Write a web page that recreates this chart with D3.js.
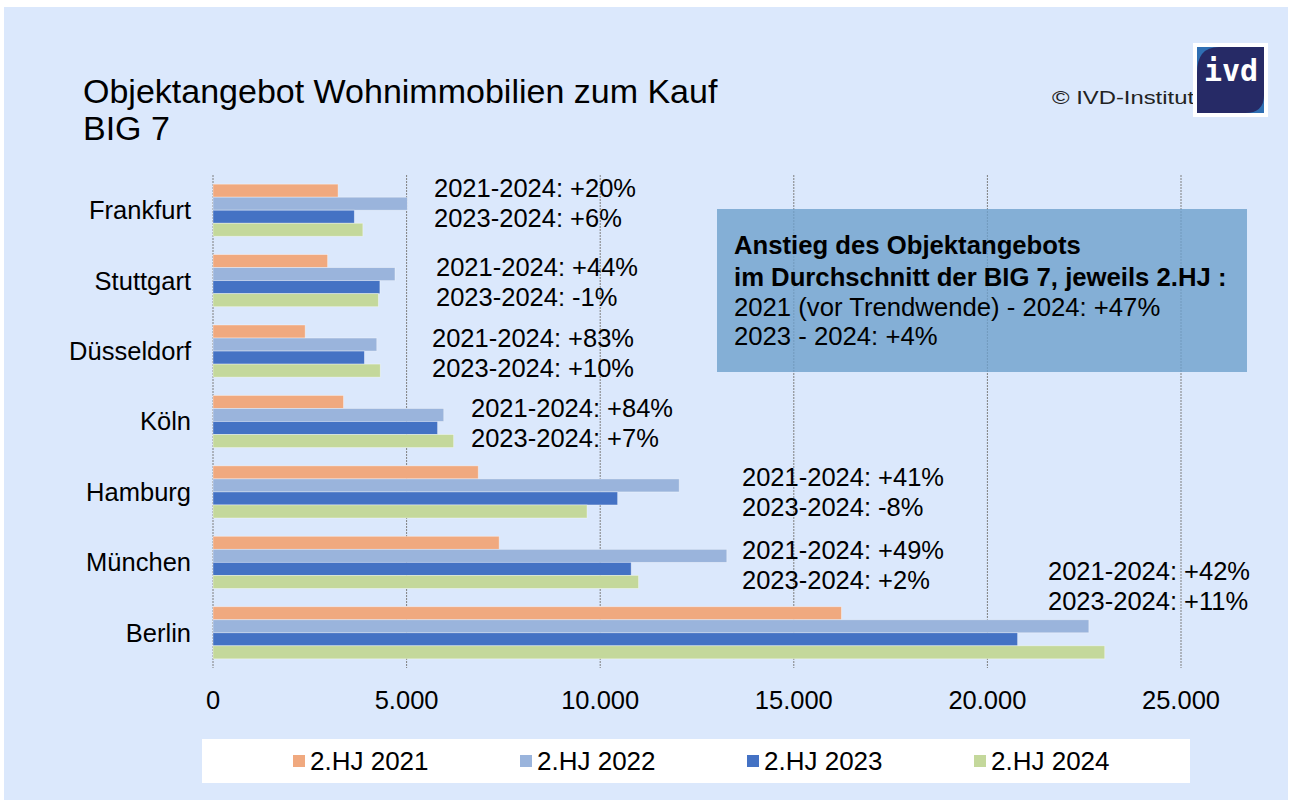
<!DOCTYPE html>
<html>
<head>
<meta charset="utf-8">
<script src="https://cdn.jsdelivr.net/npm/d3@7"></script>
<style>
  body { margin: 0; background: #fff; }
  text { font-family: "Liberation Sans", Arial, sans-serif; fill: #000; }
</style>
</head>
<body>
<div id="chart"></div>
<script>
// data
const cities = ["Frankfurt", "Stuttgart", "Düsseldorf", "Köln", "Hamburg", "München", "Berlin"];
const seriesNames = ["2.HJ 2021", "2.HJ 2022", "2.HJ 2023", "2.HJ 2024"];
const hj2021 = [3230, 2960, 2380, 3370, 6850, 7390, 16230];
const hj2022 = [5020, 4700, 4230, 5960, 12040, 13270, 22620];
const hj2023 = [3650, 4310, 3910, 5800, 10450, 10800, 20780];
const hj2024 = [3870, 4270, 4320, 6215, 9660, 10990, 23030];
const change2124 = ["+20%", "+44%", "+83%", "+84%", "+41%", "+49%", "+42%"];
const change2324 = ["+6%", "-1%", "+10%", "+7%", "-8%", "+2%", "+11%"];
const xTicks = [0, 5000, 10000, 15000, 20000, 25000];
const boxLines = [
  "Anstieg des Objektangebots",
  "im Durchschnitt der BIG 7, jeweils 2.HJ :",
  "2021 (vor Trendwende) - 2024: +47%",
  "2023 - 2024: +4%"
];

// layout of the change labels (left x, first baseline relative to band centre)
const annoLayout = [
  {x: 434, dy: -13}, {x: 436, dy: -5}, {x: 432, dy: -4}, {x: 471, dy: -5},
  {x: 742, dy: -6}, {x: 742, dy: -3}, {x: 1048, dy: -53}
];

const colors = ["#f0a97f", "#9ab4dc", "#4472c4", "#c4d89b"];
const width = 1290, height = 800;
const font = 25.5;

const de = d3.formatLocale({decimal: ",", thousands: ".", grouping: [3], currency: ["", " €"]});
const fmt = de.format(",d");

const svg = d3.select("#chart").append("svg")
  .attr("width", width)
  .attr("height", height);

svg.append("rect")
  .attr("x", 4).attr("y", 7)
  .attr("width", width - 6).attr("height", height - 7)
  .attr("fill", "#dbe8fc");

// title
const title = svg.append("text")
  .attr("x", 83).attr("y", 103)
  .style("font-size", "34px");
title.append("tspan").attr("x", 83).text("Objektangebot Wohnimmobilien zum Kauf");
title.append("tspan").attr("x", 83).attr("dy", 37).text("BIG 7");

// scales
const x = d3.scaleLinear().domain([0, 25000]).range([213, 1181]);
const y = d3.scaleBand().domain(cities).range([175, 668])
  .paddingInner(0.26).paddingOuter(0.13);
const ySub = d3.scaleBand().domain(seriesNames).range([0, y.bandwidth()]);

const table = cities.map((c, i) => ({
  city: c,
  values: [hj2021[i], hj2022[i], hj2023[i], hj2024[i]].map((v, k) => ({key: seriesNames[k], value: v, k: k}))
}));

// gridlines
svg.append("g")
  .selectAll("line")
  .data(xTicks)
  .join("line")
  .attr("x1", d => x(d)).attr("x2", d => x(d))
  .attr("y1", 175).attr("y2", 668)
  .attr("stroke", "#7f7f7f")
  .attr("stroke-width", 1)
  .attr("stroke-dasharray", "2,1");

// bars
const groups = svg.append("g")
  .selectAll("g")
  .data(table)
  .join("g")
  .attr("transform", d => "translate(0," + y(d.city) + ")");

groups.selectAll("rect")
  .data(d => d.values)
  .join("rect")
  .attr("x", x(0))
  .attr("y", d => ySub(d.key))
  .attr("width", d => x(d.value) - x(0))
  .attr("height", ySub.bandwidth())
  .attr("fill", d => colors[d.k])
  .attr("stroke", "rgba(255,255,255,0.45)")
  .attr("stroke-width", 0.8);

// x axis labels
svg.append("g")
  .selectAll("text")
  .data(xTicks)
  .join("text")
  .attr("x", d => x(d))
  .attr("y", 709)
  .attr("text-anchor", "middle")
  .style("font-size", font + "px")
  .text(d => fmt(d));

// y axis labels
svg.append("g")
  .selectAll("text")
  .data(cities)
  .join("text")
  .attr("x", 191)
  .attr("y", d => y(d) + y.bandwidth() / 2)
  .attr("dy", "0.35em")
  .attr("text-anchor", "end")
  .style("font-size", font + "px")
  .text(d => d);

// change labels
const anno = svg.append("g")
  .selectAll("text")
  .data(cities)
  .join("text")
  .style("font-size", font + "px");
anno.append("tspan")
  .attr("x", (d, i) => annoLayout[i].x)
  .attr("y", (d, i) => y(d) + y.bandwidth() / 2 + annoLayout[i].dy)
  .text((d, i) => "2021-2024: " + change2124[i]);
anno.append("tspan")
  .attr("x", (d, i) => annoLayout[i].x)
  .attr("y", (d, i) => y(d) + y.bandwidth() / 2 + annoLayout[i].dy + 30)
  .text((d, i) => "2023-2024: " + change2324[i]);

// info box
svg.append("rect")
  .attr("x", 717).attr("y", 209)
  .attr("width", 530).attr("height", 163)
  .attr("fill", "#6ea0cc")
  .attr("fill-opacity", 0.8);
svg.append("g")
  .selectAll("text")
  .data(boxLines)
  .join("text")
  .attr("x", 734)
  .attr("y", (d, i) => [254, 286, 316, 345][i])
  .style("font-size", "25.7px")
  .style("font-weight", (d, i) => i < 2 ? "bold" : "normal")
  .text(d => d);

// legend
svg.append("rect")
  .attr("x", 202).attr("y", 739)
  .attr("width", 988).attr("height", 44)
  .attr("fill", "#fff");
const leg = svg.append("g")
  .selectAll("g")
  .data(seriesNames)
  .join("g")
  .attr("transform", (d, i) => "translate(" + (293 + i * 227) + ",761)");
leg.append("rect")
  .attr("x", 0).attr("y", -6)
  .attr("width", 12).attr("height", 12)
  .attr("fill", (d, i) => colors[i]);
leg.append("text")
  .attr("x", 17)
  .attr("dy", "0.35em")
  .style("font-size", "26px")
  .text(d => d);

// copyright + logo
svg.append("text")
  .attr("x", 1052).attr("y", 104)
  .attr("textLength", 142)
  .attr("lengthAdjust", "spacingAndGlyphs")
  .style("font-size", "19px")
  .style("fill", "#222")
  .text("© IVD-Institut");

const logo = svg.append("g").attr("transform", "translate(1193,43)");
logo.append("rect").attr("width", 75).attr("height", 74).attr("fill", "#fff");
logo.append("rect").attr("x", 4).attr("y", 4).attr("width", 67).attr("height", 66).attr("fill", "#2f6fb3");
logo.append("path")
  .attr("d", "M26,4 L71,4 L71,52 Q71,70 52,70 L4,70 L4,30 Q4,4 26,4 Z")
  .attr("fill", "#262a66");
logo.append("text")
  .attr("x", 38).attr("y", 38)
  .attr("text-anchor", "middle")
  .style("font-family", "'DejaVu Sans Mono', monospace")
  .style("font-weight", "bold")
  .style("font-size", "30px")
  .style("fill", "#fff")
  .text("ivd");
</script>
</body>
</html>
